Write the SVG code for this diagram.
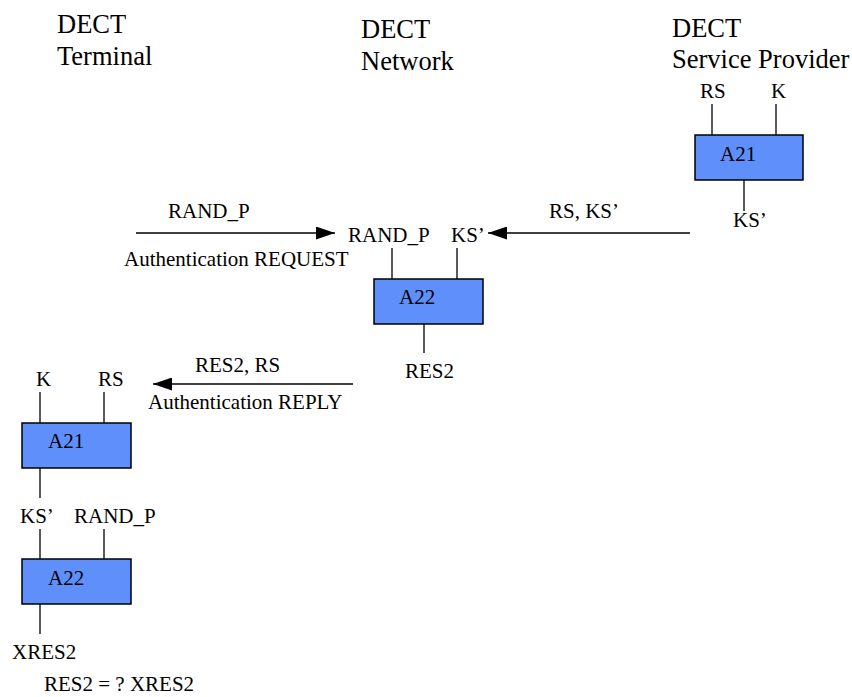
<svg xmlns="http://www.w3.org/2000/svg" width="852" height="697" viewBox="0 0 852 697">
<style>
  text { font-family: 'Liberation Serif', 'Times New Roman', Times, 'DejaVu Serif', serif; fill: #000; }
  .h { font-size: 26.5px; }
  .s { font-size: 21px; }
  .box { fill: #5f8ffb; stroke: #000; stroke-width: 1.5; }
  .ln { stroke: #000; stroke-width: 1.3; fill: none; }
</style>
<defs>
  <marker id="arr" markerWidth="19" markerHeight="13" refX="19" refY="6.5" orient="auto" markerUnits="userSpaceOnUse">
    <path d="M0,0 L19,6.5 L0,13 Z" fill="#000"/>
  </marker>
</defs>
<rect width="852" height="697" fill="#fff"/>

<g id="headers">
  <text class="h" x="57" y="33">DECT</text>
  <text class="h" x="57" y="65">Terminal</text>
  <text class="h" x="361" y="38">DECT</text>
  <text class="h" x="361" y="70">Network</text>
  <text class="h" x="672" y="37">DECT</text>
  <text class="h" x="672" y="68">Service Provider</text>
</g>

<g id="sp-a21">
  <text class="s" x="700" y="98">RS</text>
  <text class="s" x="771" y="98">K</text>
  <line class="ln" x1="712" y1="104" x2="712" y2="135"/>
  <line class="ln" x1="776" y1="104" x2="776" y2="135"/>
  <rect class="box" x="695" y="135" width="108" height="45"/>
  <text class="s" x="720" y="161">A21</text>
  <line class="ln" x1="744" y1="180" x2="744" y2="211"/>
  <text class="s" x="733" y="227">KS’</text>
</g>

<g id="net-a22">
  <text class="s" x="348" y="242">RAND_P</text>
  <text class="s" x="451" y="242">KS’</text>
  <line class="ln" x1="392" y1="248" x2="392" y2="279"/>
  <line class="ln" x1="457" y1="248" x2="457" y2="279"/>
  <rect class="box" x="374" y="279" width="109" height="45"/>
  <text class="s" x="399" y="304">A22</text>
  <line class="ln" x1="424" y1="324" x2="424" y2="353"/>
  <text class="s" x="405" y="378">RES2</text>
</g>

<g id="term-a21">
  <text class="s" x="36" y="386">K</text>
  <text class="s" x="98" y="386">RS</text>
  <line class="ln" x1="40" y1="392" x2="40" y2="423"/>
  <line class="ln" x1="104" y1="392" x2="104" y2="423"/>
  <rect class="box" x="22" y="423" width="109" height="45"/>
  <text class="s" x="48" y="448">A21</text>
  <line class="ln" x1="40" y1="468" x2="40" y2="498"/>
</g>

<g id="term-a22">
  <text class="s" x="20" y="523">KS’</text>
  <text class="s" x="74" y="523">RAND_P</text>
  <line class="ln" x1="40" y1="529" x2="40" y2="559"/>
  <line class="ln" x1="104" y1="529" x2="104" y2="559"/>
  <rect class="box" x="22" y="559" width="109" height="45"/>
  <text class="s" x="48" y="585">A22</text>
  <line class="ln" x1="40" y1="604" x2="40" y2="634"/>
  <text class="s" x="12" y="659">XRES2</text>
  <text class="s" x="44" y="691">RES2 = ? XRES2</text>
</g>

<g id="connectors">
  <line class="ln" x1="136" y1="233" x2="335" y2="233" marker-end="url(#arr)"/>
  <text class="s" x="168" y="218">RAND_P</text>
  <text class="s" x="124" y="266">Authentication REQUEST</text>

  <line class="ln" x1="690" y1="233" x2="488" y2="233" marker-end="url(#arr)"/>
  <text class="s" x="549" y="218">RS, KS’</text>

  <line class="ln" x1="353" y1="384" x2="153" y2="384" marker-end="url(#arr)"/>
  <text class="s" x="195" y="372">RES2, RS</text>
  <text class="s" x="148" y="409">Authentication REPLY</text>
</g>
</svg>
